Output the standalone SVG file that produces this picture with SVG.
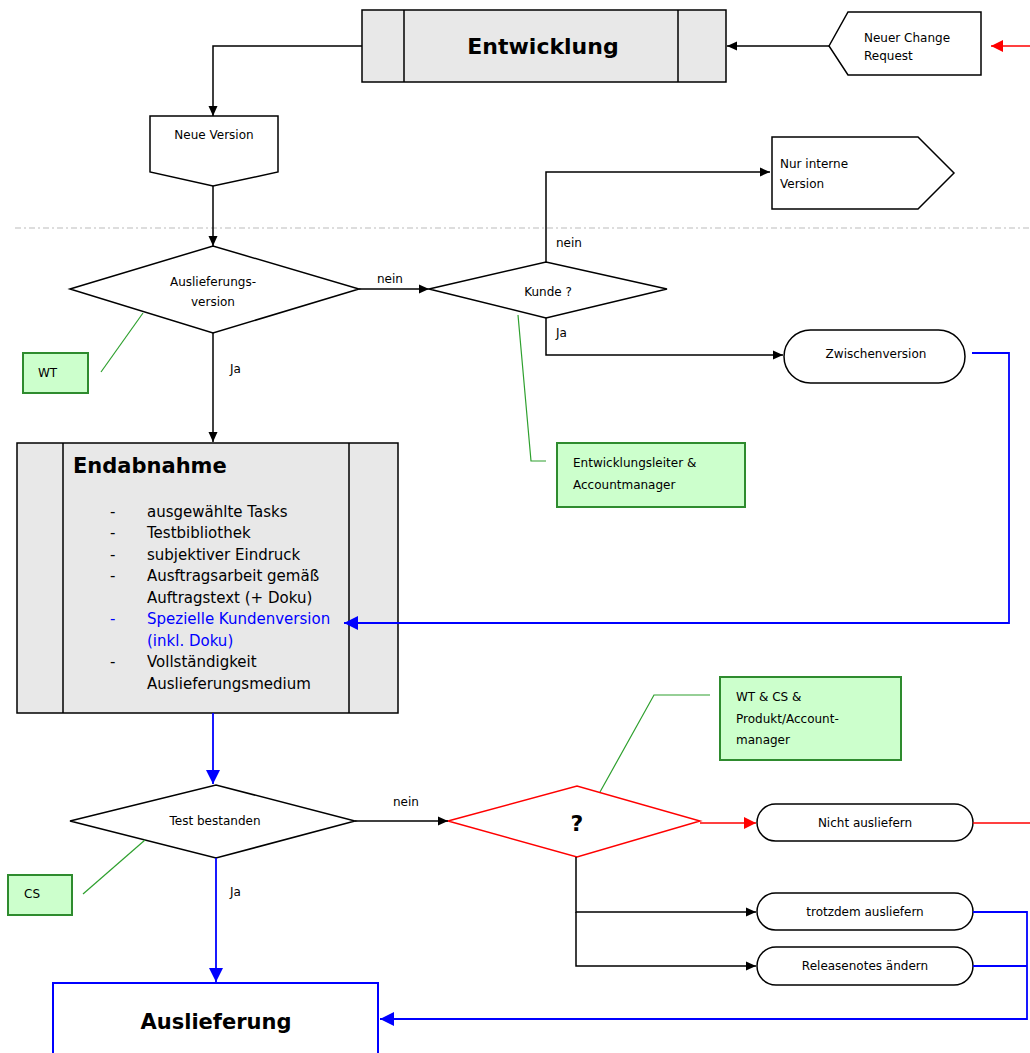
<svg xmlns="http://www.w3.org/2000/svg" width="1030" height="1053" viewBox="0 0 1030 1053">
<style>
text{font-family:"DejaVu Sans","Liberation Sans",sans-serif;fill:#000}
.s{font-size:12px}
.c{text-anchor:middle}
.b{font-weight:bold}
.l{font-size:15px}
.blue{fill:#0000ff}
.node{fill:#fff;stroke:#000;stroke-width:1.5}
.proc{fill:#e8e8e8;stroke:#000;stroke-width:1.5}
.note{fill:#ccffcc;stroke:#2e8b2e;stroke-width:2}
.k{fill:none;stroke:#000;stroke-width:1.5}
.bl{fill:none;stroke:#0000ff;stroke-width:1.8}
.rd{fill:none;stroke:#ff0000;stroke-width:1.5}
.gr{fill:none;stroke:#2ea02e;stroke-width:1.2}
</style>
<defs>
<marker id="ak" markerUnits="userSpaceOnUse" markerWidth="11" markerHeight="10" refX="10" refY="5" orient="auto"><path d="M0,0.5 L10,5 L0,9.5 z" fill="#000"/></marker>
<marker id="ab" markerUnits="userSpaceOnUse" markerWidth="15" markerHeight="14" refX="14" refY="7" orient="auto"><path d="M0,0 L14,7 L0,14 z" fill="#0000ff"/></marker>
<marker id="ar" markerUnits="userSpaceOnUse" markerWidth="13" markerHeight="12" refX="12" refY="6" orient="auto"><path d="M0,0 L12,6 L0,12 z" fill="#ff0000"/></marker>
</defs>
<line x1="15" y1="228" x2="1030" y2="228" stroke="#bbbbbb" stroke-width="1.2" stroke-dasharray="6,3,2,3"/>
<g id="entwicklung">
<rect class="proc" x="362" y="10" width="364" height="72"/>
<line class="k" x1="404" y1="10" x2="404" y2="82"/>
<line class="k" x1="678" y1="10" x2="678" y2="82"/>
<text class="c b" x="543" y="54" font-size="22">Entwicklung</text>
</g>
<g id="neuer-change-request">
<polygon class="node" points="829,46 848,12 981,12 981,75 848,75"/>
<text class="s" x="864" y="42">Neuer Change</text>
<text class="s" x="864" y="60">Request</text>
</g>
<g id="neue-version">
<polygon class="node" points="150,116 278,116 278,172 213,186 150,172"/>
<text class="s c" x="214" y="139">Neue Version</text>
</g>
<g id="nur-interne-version">
<polygon class="node" points="772,137 918,137 954,173 918,209 772,209"/>
<text class="s" x="780" y="168">Nur interne</text>
<text class="s" x="780" y="188">Version</text>
</g>
<g id="auslieferungsversion">
<polygon class="node" points="70,289 213,246 359,289 213,333"/>
<text class="s c" x="213" y="286">Auslieferungs-</text>
<text class="s c" x="213" y="306">version</text>
</g>
<g id="kunde">
<polygon class="node" points="429,289 546,262 667,289 546,318"/>
<text class="s c" x="548" y="296">Kunde ?</text>
</g>
<g id="zwischenversion">
<rect class="node" x="784" y="330" width="181" height="53" rx="26.5" ry="26.5"/>
<text class="s c" x="876" y="358">Zwischenversion</text>
</g>
<g id="wt">
<rect class="note" x="23" y="353" width="65" height="40"/>
<text class="s" x="38" y="377">WT</text>
</g>
<g id="entwicklungsleiter">
<rect class="note" x="557" y="443" width="188" height="64"/>
<text class="s" x="573" y="467">Entwicklungsleiter &amp;</text>
<text class="s" x="573" y="489">Accountmanager</text>
</g>
<g id="endabnahme">
<rect class="proc" x="17" y="443" width="381" height="270"/>
<line class="k" x1="63" y1="443" x2="63" y2="713"/>
<line class="k" x1="349" y1="443" x2="349" y2="713"/>
<text class="b" x="73" y="473" font-size="21">Endabnahme</text>
<g class="l">
<text x="110" y="517">-</text><text x="147" y="517">ausgewählte Tasks</text>
<text x="110" y="538">-</text><text x="147" y="538">Testbibliothek</text>
<text x="110" y="560">-</text><text x="147" y="560">subjektiver Eindruck</text>
<text x="110" y="581">-</text><text x="147" y="581">Ausftragsarbeit gemäß</text>
<text x="147" y="603">Auftragstext (+ Doku)</text>
<text class="blue" x="110" y="624">-</text><text class="blue" x="147" y="624">Spezielle Kundenversion</text>
<text class="blue" x="147" y="646">(inkl. Doku)</text>
<text x="110" y="667">-</text><text x="147" y="667">Vollständigkeit</text>
<text x="147" y="689">Auslieferungsmedium</text>
</g>
</g>
<g id="test-bestanden">
<polygon class="node" points="70,821 216,785 355,821 216,858"/>
<text class="s c" x="215" y="825">Test bestanden</text>
</g>
<g id="cs">
<rect class="note" x="8" y="875" width="64" height="40"/>
<text class="s" x="24" y="898">CS</text>
</g>
<g id="frage">
<polygon fill="#fff" stroke="#ff0000" stroke-width="1.5" points="448,821 577,786 700,821 577,857"/>
<text class="c b" x="577" y="831" font-size="22">?</text>
</g>
<g id="wt-cs-produkt">
<rect class="note" x="720" y="677" width="181" height="83"/>
<text class="s" x="736" y="701">WT &amp; CS &amp;</text>
<text class="s" x="736" y="723">Produkt/Account-</text>
<text class="s" x="736" y="744">manager</text>
</g>
<g id="nicht-ausliefern">
<rect class="node" x="757" y="804" width="216" height="37" rx="18.5" ry="18.5"/>
<text class="s c" x="865" y="827">Nicht ausliefern</text>
</g>
<g id="trotzdem-ausliefern">
<rect class="node" x="757" y="893" width="216" height="37" rx="18.5" ry="18.5"/>
<text class="s c" x="865" y="916">trotzdem ausliefern</text>
</g>
<g id="releasenotes-aendern">
<rect class="node" x="757" y="947" width="216" height="38" rx="19" ry="19"/>
<text class="s c" x="865" y="970">Releasenotes ändern</text>
</g>
<g id="auslieferung">
<rect fill="#fff" stroke="#0000ff" stroke-width="2" x="53" y="983" width="325" height="80"/>
<text class="c b" x="216" y="1029" font-size="21">Auslieferung</text>
</g>
<g id="connectors">
<line class="rd" x1="1030" y1="46" x2="991" y2="46" marker-end="url(#ar)"/>
<line class="k" x1="829" y1="46" x2="727" y2="46" marker-end="url(#ak)"/>
<polyline class="k" points="362,46 213,46 213,116" marker-end="url(#ak)"/>
<line class="k" x1="213" y1="186" x2="213" y2="246" marker-end="url(#ak)"/>
<line class="k" x1="359" y1="289" x2="429" y2="289" marker-end="url(#ak)"/>
<polyline class="k" points="546,262 546,172 770,172" marker-end="url(#ak)"/>
<polyline class="k" points="546,318 546,355 783,355" marker-end="url(#ak)"/>
<line class="k" x1="213" y1="333" x2="213" y2="442" marker-end="url(#ak)"/>
<polyline class="bl" points="972,353 1009,353 1009,623 344,623" marker-end="url(#ab)"/>
<line class="bl" x1="213" y1="713" x2="213" y2="784" marker-end="url(#ab)"/>
<line class="k" x1="355" y1="821" x2="448" y2="821" marker-end="url(#ak)"/>
<line class="bl" x1="216" y1="858" x2="216" y2="982" marker-end="url(#ab)"/>
<line class="rd" x1="700" y1="823" x2="756" y2="823" marker-end="url(#ar)"/>
<line class="rd" x1="973" y1="823" x2="1030" y2="823"/>
<polyline class="k" points="576,857 576,912 756,912" marker-end="url(#ak)"/>
<polyline class="k" points="576,912 576,966 756,966" marker-end="url(#ak)"/>
<polyline class="bl" points="973,912 1027,912 1027,1019 380,1019" marker-end="url(#ab)"/>
<line class="bl" x1="973" y1="966" x2="1027" y2="966"/>
<line class="gr" x1="143" y1="313" x2="101" y2="372"/>
<polyline class="gr" points="518,315 531,461 546,461"/>
<line class="gr" x1="145" y1="840" x2="83" y2="894"/>
<polyline class="gr" points="600,792 654,695 710,695"/>
<text class="s" x="377" y="283">nein</text>
<text class="s" x="556" y="247">nein</text>
<text class="s" x="556" y="337">Ja</text>
<text class="s" x="230" y="373">Ja</text>
<text class="s" x="393" y="806">nein</text>
<text class="s" x="230" y="896">Ja</text>
</g>
</svg>
